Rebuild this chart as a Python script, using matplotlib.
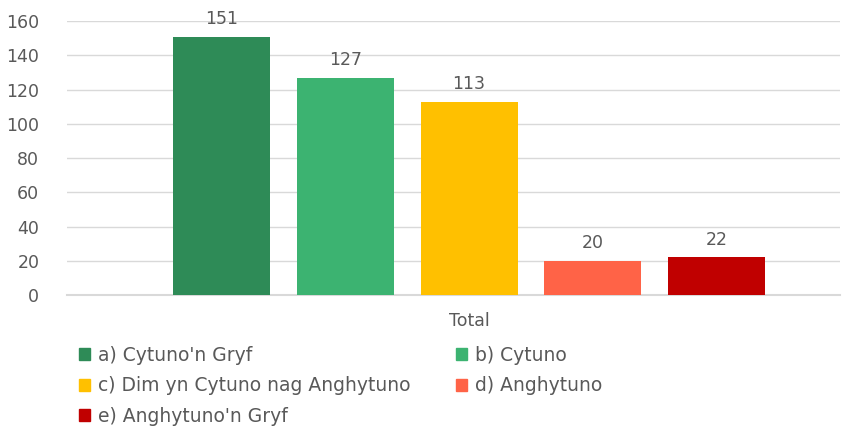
import matplotlib.pyplot as plt
from matplotlib.patches import Patch

labels = ["a) Cytuno'n Gryf", "b) Cytuno", "c) Dim yn Cytuno nag Anghytuno",
          "d) Anghytuno", "e) Anghytuno'n Gryf"]
values = [151, 127, 113, 20, 22]
colors = ["#2E8B57", "#3CB371", "#FFC000", "#FF6347", "#C00000"]
category = "Total"

grey = "#595959"
plt.rcParams['font.family'] = ['DejaVu Sans']

fig = plt.figure(figsize=(8.6, 4.32), dpi=100)
ax = fig.add_axes([0.078, 0.317, 0.899, 0.634])

pos = range(len(values))
bars = ax.bar(pos, values, width=0.785, color=colors, zorder=3)
for b, v in zip(bars, values):
    ax.text(b.get_x() + b.get_width() / 2, v + 5, str(v), ha='center', va='bottom',
            fontsize=12.5, color=grey)

ax.set_ylim(0, 160)
ax.set_yticks(range(0, 161, 20))
ax.set_xlim(-1.25, 5.0)
ax.set_xticks([2])
ax.set_xticklabels([category])
ax.tick_params(axis='both', length=0, labelsize=12.5, colors=grey)
ax.tick_params(axis='x', pad=12)
ax.tick_params(axis='y', pad=20)
ax.grid(axis='y', color='#D9D9D9', linewidth=1, zorder=0)
ax.axhline(0, color='#D9D9D9', linewidth=1.5, zorder=1, clip_on=False)
for s in ax.spines.values():
    s.set_visible(False)

handles = [Patch(color=c, label=l) for c, l in zip(colors, labels)]
order = [0, 2, 4, 1, 3]
fig.legend([handles[i] for i in order], [labels[i] for i in order],
           ncol=2, loc='upper left', bbox_to_anchor=(0.083, 0.217),
           frameon=False, fontsize=13.5, labelcolor=grey,
           handlelength=0.6, handleheight=0.6, handletextpad=0.4,
           columnspacing=2.45, labelspacing=0.62, borderaxespad=0)

fig.savefig("out.png", dpi=100)
